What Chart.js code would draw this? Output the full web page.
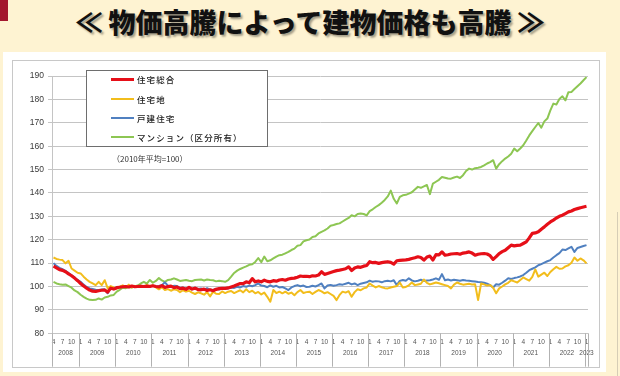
<!DOCTYPE html>
<html><head><meta charset="utf-8">
<script src="https://cdn.jsdelivr.net/npm/chart.js@4.4.1/dist/chart.umd.min.js"></script>
<style>
html,body{margin:0;padding:0;}
body{width:620px;height:376px;background:#fef3d2;position:relative;overflow:hidden;font-family:"Noto Sans CJK JP",sans-serif;}
#tab{position:absolute;left:0;top:0;width:8px;height:21px;background:#a3172e;}
#title{position:absolute;left:0;top:4px;width:620px;text-align:center;font-size:27px;font-weight:900;line-height:36px;color:#111;text-shadow:2px 2px 2px rgba(0,0,0,0.35);white-space:nowrap;}
#panel{position:absolute;left:3px;top:52px;width:603px;height:320px;background:#fff;}
#frame{position:absolute;left:12px;top:60px;width:588px;height:308px;box-sizing:border-box;border:1px solid #c8c8c8;}
#wrap{position:absolute;left:12px;top:60px;width:588px;height:308px;}
#legend{position:absolute;left:86px;top:70px;width:182px;height:77px;box-sizing:border-box;border:1px solid #6e6e6e;background:#fff;}
.sw{position:absolute;left:24px;width:23px;}
.lab{position:absolute;left:50px;font-size:8.5px;font-weight:500;color:#1a1a1a;white-space:nowrap;letter-spacing:1.1px;line-height:12px;}
#note{position:absolute;left:112px;top:152px;font-size:8px;color:#333;white-space:nowrap;line-height:14px;}
#edge{position:absolute;left:617px;top:212px;width:6px;height:170px;border-left:1px solid #d6cdb6;}
</style></head>
<body>
<div id="tab"></div>
<div id="title">≪ 物価高騰によって建物価格も高騰 ≫</div>
<div id="panel"></div>
<div id="edge"></div>
<div id="frame"></div>
<div id="wrap"><canvas id="c" width="588" height="308"></canvas></div>
<div id="legend"></div>
<div id="note">（2010年平均=100）</div>
<script>
// ---- data ----
const years = [2008,2009,2010,2011,2012,2013,2014,2015,2016,2017,2018,2019,2020,2021,2022,2023];
const monthTicks = [1,4,7,10];
const categories = [];
for (const y of years) for (let m = 1; m <= 12; m++) {
  if ((y === 2008 && m < 4) || (y === 2023 && m > 1)) continue;
  categories.push(y + '-' + m);
}
const seriesNames = ['住宅総合','住宅地','戸建住宅','マンション（区分所有）'];
const seriesColors = ['#e60f18','#f2bd1c','#5080c0','#8dc653'];

const housingTotal = [
 108.7,108.0,107.2,106.9,106.3,105.4,104.6,103.6,102.5,
 101.3,100.2,99.3,98.5,98.0,97.9,98.2,98.4,98.5,97.6,99.3,98.9,
 99.5,99.7,99.9,100.0,99.8,100.2,99.9,100.0,100.1,100.0,100.2,100.0,
 100.3,100.0,99.8,100.4,99.6,100.0,100.2,99.5,99.8,99.1,99.3,98.8,
 99.6,98.9,99.3,98.7,98.6,98.9,98.3,98.6,98.2,98.8,99.1,99.2,
 99.2,99.4,99.8,100.2,100.8,101.3,101.2,102.0,101.6,103.4,102.0,102.4,
 102.0,102.7,102.2,102.0,102.5,102.3,102.8,103.0,102.7,103.2,103.5,103.6,
 104.0,104.5,104.3,104.4,104.2,104.6,104.5,104.9,106.3,105.2,105.6,106.0,
 106.4,106.8,107.0,107.3,107.6,108.4,106.8,107.9,108.4,108.2,108.7,109.0,
 110.6,110.2,110.3,109.9,110.2,110.4,110.6,110.3,109.6,111.0,111.2,111.3,
 111.4,111.6,112.0,112.3,112.7,112.4,111.3,112.6,113.0,111.3,113.6,113.5,
 114.8,113.4,113.6,113.9,114.0,114.1,113.8,114.3,114.5,114.8,114.3,113.4,
 113.8,114.0,114.1,113.9,113.2,111.6,112.8,114.1,114.9,115.5,116.6,117.7,
 117.4,117.6,117.7,118.4,119.1,120.8,122.7,122.9,123.4,124.5,125.5,126.6,
 127.6,128.4,129.3,130.0,130.5,131.2,131.9,132.3,132.9,133.3,133.7,134.0,
 134.3
];
const residentialLand = [
 112.4,111.8,111.5,111.3,109.9,111.0,107.7,106.8,105.9,
 105.6,104.2,103.0,102.0,101.3,100.6,102.0,100.6,102.7,99.2,100.2,99.6,
 99.1,99.9,100.5,99.7,100.8,99.6,100.3,99.8,100.4,99.9,100.6,100.2,
 100.4,99.6,98.8,99.7,98.5,98.9,98.2,98.8,98.5,97.6,98.4,97.8,
 98.2,97.4,96.8,97.5,97.1,96.5,97.6,95.8,97.8,96.9,96.8,97.9,
 97.2,97.8,98.1,97.2,97.8,98.4,97.5,98.8,97.6,98.2,97.1,97.7,
 96.6,97.4,95.6,93.5,98.5,97.2,97.8,97.1,97.8,96.9,97.4,96.3,
 97.6,98.5,97.2,97.6,97.8,96.8,97.7,98.5,97.9,97.1,97.6,96.8,
 96.0,94.2,96.4,97.8,97.4,98.0,95.6,97.6,98.8,98.4,99.2,99.6,
 101.3,100.4,99.6,100.2,99.7,99.3,99.2,99.6,99.9,100.2,101.7,99.6,
 99.8,100.5,101.7,100.6,100.9,101.2,103.0,101.6,100.9,101.3,101.7,101.4,
 101.0,100.6,100.2,99.2,100.8,101.7,101.2,100.8,101.0,101.2,100.9,101.0,
 94.2,101.3,100.9,100.4,100.6,99.5,97.1,99.2,100.0,100.9,101.6,102.7,
 102.2,101.7,102.8,103.9,103.2,102.5,104.1,107.3,104.2,105.1,105.9,104.5,
 106.2,107.4,108.4,107.6,107.7,108.6,109.1,110.2,112.4,111.0,112.0,111.2,
 109.9
];
const detachedHouses = [
 110.0,108.8,108.0,107.4,106.7,105.8,104.8,103.8,102.8,
 102.0,100.8,99.8,99.2,98.9,98.6,98.5,98.7,98.8,97.1,99.5,99.0,
 99.6,99.8,100.1,99.9,100.3,99.8,100.1,100.0,100.3,99.9,100.2,100.0,
 100.4,99.9,100.2,100.6,101.8,100.4,99.8,100.3,100.2,99.4,99.6,99.1,
 99.3,98.8,99.5,98.9,99.2,98.7,99.3,98.6,98.5,99.0,98.7,99.3,
 99.0,99.2,99.6,99.4,99.9,99.6,100.2,99.9,100.4,100.1,100.6,101.3,
 100.4,100.2,99.7,100.5,99.9,100.3,99.6,99.8,99.2,98.5,99.6,100.2,
 100.6,100.1,100.4,99.8,99.9,100.3,100.0,100.6,101.3,99.2,100.4,100.7,
 100.3,100.6,101.0,100.8,101.2,101.6,100.9,101.3,100.6,101.2,101.5,101.8,
 102.5,102.0,102.3,102.2,101.8,102.3,102.5,102.2,102.7,100.6,102.4,102.8,
 102.5,103.5,102.6,102.2,102.5,102.9,102.4,102.6,102.7,103.0,103.5,102.9,
 105.3,102.7,103.0,102.6,102.9,102.7,102.5,102.8,102.6,102.5,102.3,102.1,
 101.9,101.8,101.6,101.2,100.6,99.6,101.0,100.8,101.6,102.5,103.5,103.2,
 103.6,103.9,104.3,104.9,105.9,107.0,107.6,108.2,109.1,109.6,110.2,110.8,
 111.3,112.4,113.4,114.3,115.8,115.6,116.3,117.0,114.8,116.5,116.9,117.3,
 117.7
];
const condominiums = [
 102.0,101.3,101.0,100.8,100.9,100.2,99.5,98.3,97.6,
 96.5,95.6,94.8,94.3,94.2,94.3,94.9,94.4,95.3,95.6,96.2,96.4,
 97.8,98.6,99.5,99.3,99.8,99.6,100.1,100.4,101.3,102.0,101.2,102.8,
 101.6,102.4,103.6,102.6,102.0,102.8,103.0,103.5,103.0,102.4,102.6,102.8,
 102.5,102.3,102.8,102.9,103.0,102.6,103.0,102.8,102.7,102.2,102.5,102.3,
 102.0,102.7,104.2,105.8,106.8,107.5,108.1,108.6,109.3,109.5,110.5,112.2,
 110.4,112.8,110.8,111.2,112.0,112.8,113.4,113.6,114.2,114.8,115.6,116.2,
 117.4,117.7,119.3,119.8,120.1,121.2,121.5,122.7,123.4,124.0,124.8,126.0,
 126.3,126.7,127.0,127.8,128.6,129.3,130.5,130.0,131.0,131.2,131.0,130.4,
 132.2,133.0,134.0,134.8,135.8,137.0,138.5,141.0,137.5,135.5,138.3,139.0,
 139.2,139.7,140.3,141.5,142.6,142.2,142.8,143.4,139.5,144.0,144.8,145.6,
 146.8,146.5,146.2,146.1,146.6,147.0,146.4,147.6,149.4,150.4,150.0,150.6,
 150.8,151.1,151.8,152.6,153.2,154.0,150.4,152.3,153.6,154.7,155.6,156.8,
 159.0,157.8,159.0,160.4,162.4,164.6,166.4,168.2,169.9,167.9,170.6,171.8,
 175.3,178.2,177.8,180.2,181.3,179.6,183.1,183.2,184.4,185.6,186.8,188.2,
 189.5
];
const seriesValues = [housingTotal, residentialLand, detachedHouses, condominiums];
const seriesWidths = [3.2, 2, 2, 2];
const yTicks = {min: 80, max: 190, step: 10};

// ---- legend (HTML) ----
const legend = document.getElementById('legend');
const rowY = [9.3, 29.3, 48.3, 67.3];
seriesNames.forEach((n, i) => {
  const sw = document.createElement('div');
  sw.className = 'sw';
  const h = i === 0 ? 3 : 2;
  sw.style.cssText = `top:${rowY[i] - h/2 - 1}px;height:${h}px;background:${seriesColors[i]};`;
  legend.appendChild(sw);
  const lb = document.createElement('div');
  lb.className = 'lab';
  lb.style.top = (rowY[i] - 7) + 'px';
  lb.textContent = n;
  legend.appendChild(lb);
});

// ---- year row plugin ----
const smallFont = '"Liberation Sans", Arial, sans-serif';
const yearPlugin = {
  id: 'yearRow',
  afterDraw(chart) {
    const {ctx, chartArea, scales: {x}} = chart;
    const half = (x.getPixelForValue(1) - x.getPixelForValue(0)) / 2;
    const top = chartArea.bottom, bot = chartArea.bottom + 33.4;
    ctx.save();
    ctx.strokeStyle = '#b2b2b2';
    ctx.lineWidth = 1;
    ctx.fillStyle = '#555';
    ctx.font = '6.5px ' + smallFont;
    ctx.textAlign = 'center';
    ctx.textBaseline = 'middle';
    let lastEnd = null;
    years.forEach(y => {
      let first = -1, last = -1;
      categories.forEach((c, i) => { if (+c.split('-')[0] === y) { if (first < 0) first = i; last = i; } });
      const a = x.getPixelForValue(first) - half;
      const b = x.getPixelForValue(last) + half;
      const px = Math.round(a) + 0.5;
      ctx.beginPath(); ctx.moveTo(px, top); ctx.lineTo(px, bot); ctx.stroke();
      ctx.fillText(String(y), (a + b) / 2, chartArea.bottom + 20);
      lastEnd = b;
    });
    const pe = Math.round(lastEnd) + 0.5;
    ctx.beginPath(); ctx.moveTo(pe, top); ctx.lineTo(pe, bot); ctx.stroke();
    ctx.restore();
  }
};

new Chart(document.getElementById('c'), {
  type: 'line',
  data: {
    labels: categories,
    datasets: seriesValues.map((v, i) => ({
      label: seriesNames[i],
      data: v,
      borderColor: seriesColors[i],
      backgroundColor: seriesColors[i],
      borderWidth: seriesWidths[i],
      pointRadius: 0,
      tension: 0,
      fill: false,
      borderJoinStyle: 'round'
    }))
  },
  options: {
    responsive: false,
    animation: false,
    devicePixelRatio: 1,
    layout: {padding: {top: 16, right: 12, left: 0, bottom: 0}},
    plugins: {legend: {display: false}, tooltip: {enabled: false}},
    scales: {
      x: {
        type: 'category',
        offset: true,
        grid: {display: false, drawTicks: false},
        border: {display: false},
        ticks: {
          autoSkip: false, maxRotation: 0, minRotation: 0, padding: 5,
          color: '#555', font: {size: 6.5, family: smallFont},
          callback: function (v, i) {
            const m = +categories[i].split('-')[1];
            return monthTicks.includes(m) ? String(m) : '';
          }
        },
        afterFit: s => { s.height = 34.7; }
      },
      y: {
        min: yTicks.min, max: yTicks.max,
        ticks: {stepSize: yTicks.step, padding: 4, color: '#3a3a3a', font: {size: 8.5, family: smallFont}},
        grid: {color: '#c4c4c4', tickLength: 4, lineWidth: 1},
        border: {color: '#c4c4c4'},
        afterFit: s => { s.width = 40; }
      }
    }
  },
  plugins: [yearPlugin]
});
</script>
</body></html>
